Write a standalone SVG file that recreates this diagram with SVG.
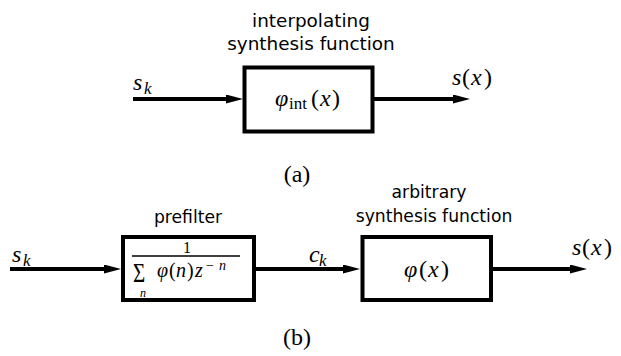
<svg xmlns="http://www.w3.org/2000/svg" width="621" height="356" viewBox="0 0 621 356">
<style>
.box{fill:#fff;stroke:#000;stroke-width:4}
.wire{stroke:#000;stroke-width:4;fill:none}
.lbl{font-family:"DejaVu Sans","Liberation Sans",sans-serif;fill:#000;text-anchor:middle}
.m{font-family:"Liberation Serif","DejaVu Serif",serif;fill:#000}
.mi{font-style:italic}
</style>
<defs>
<marker id="arr" viewBox="0 0 17 9" refX="7" refY="4.5" markerWidth="17" markerHeight="9" markerUnits="userSpaceOnUse" orient="auto">
<path d="M0,0 L17,4.5 L0,9 Z" fill="#000"/>
</marker>
</defs>
<g id="connectors">
<line class="wire" x1="133" y1="99" x2="233" y2="99" marker-end="url(#arr)"/>
<line class="wire" x1="374" y1="99" x2="460" y2="99" marker-end="url(#arr)"/>
<line class="wire" x1="10" y1="269" x2="111" y2="269" marker-end="url(#arr)"/>
<line class="wire" x1="256" y1="269" x2="350" y2="269" marker-end="url(#arr)"/>
<line class="wire" x1="492" y1="269" x2="577" y2="269" marker-end="url(#arr)"/>
</g>
<g id="interp">
<rect class="box" x="244.5" y="67.5" width="128" height="64"/>
<text class="lbl" x="311" y="27" font-size="18.4">interpolating</text>
<text class="lbl" x="311" y="50" font-size="18.4">synthesis function</text>
<text class="m mi" x="275" y="106" font-size="24">φ</text>
<text class="m" x="289" y="109" font-size="17">int</text>
<text class="m" x="311 320 332" y="106" font-size="24">(<tspan class="mi">x</tspan>)</text>
</g>
<g id="input-a"><text class="m mi" x="133" y="90" font-size="24">s</text><text class="m mi" x="144" y="94" font-size="17">k</text></g>
<g id="output-a"><text class="m" x="452 462 471 484" y="85" font-size="24"><tspan class="mi">s</tspan>(<tspan class="mi">x</tspan>)</text></g>
<text class="m" x="297" y="182" font-size="24" text-anchor="middle">(a)</text>
<g id="prefilter">
<rect class="box" x="123" y="237" width="131" height="63"/>
<text class="lbl" x="188" y="223" font-size="17.2">prefilter</text>
<text class="m" x="187" y="253" font-size="16" text-anchor="middle">1</text>
<line x1="132" y1="256" x2="240" y2="256" stroke="#000" stroke-width="1.6"/>
<text class="m" font-size="21" transform="translate(133,282) scale(1,1.3)">Σ</text>
<text class="m mi" x="140" y="297" font-size="12">n</text>
<text class="m" x="157 169 176 187 195" y="277" font-size="20"><tspan class="mi">φ</tspan>(<tspan class="mi">n</tspan>)<tspan class="mi">z</tspan></text>
<text class="m" x="206 219" y="270" font-size="14">−<tspan class="mi">n</tspan></text>
</g>
<g id="input-b"><text class="m mi" x="12" y="262" font-size="24">s</text><text class="m mi" x="23" y="266" font-size="17">k</text></g>
<g id="ck"><text class="m mi" x="309" y="262" font-size="24">c</text><text class="m mi" x="319" y="266" font-size="17">k</text></g>
<g id="synth">
<rect class="box" x="362.5" y="237" width="128.5" height="63"/>
<text class="lbl" x="429" y="198" font-size="17.2">arbitrary</text>
<text class="lbl" x="434" y="222" font-size="17.2">synthesis function</text>
<text class="m" x="404 419 428 441" y="277" font-size="24"><tspan class="mi">φ</tspan>(<tspan class="mi">x</tspan>)</text>
</g>
<g id="output-b"><text class="m" x="572 582 591 604" y="255" font-size="24"><tspan class="mi">s</tspan>(<tspan class="mi">x</tspan>)</text></g>
<text class="m" x="297" y="345" font-size="24" text-anchor="middle">(b)</text>
</svg>
